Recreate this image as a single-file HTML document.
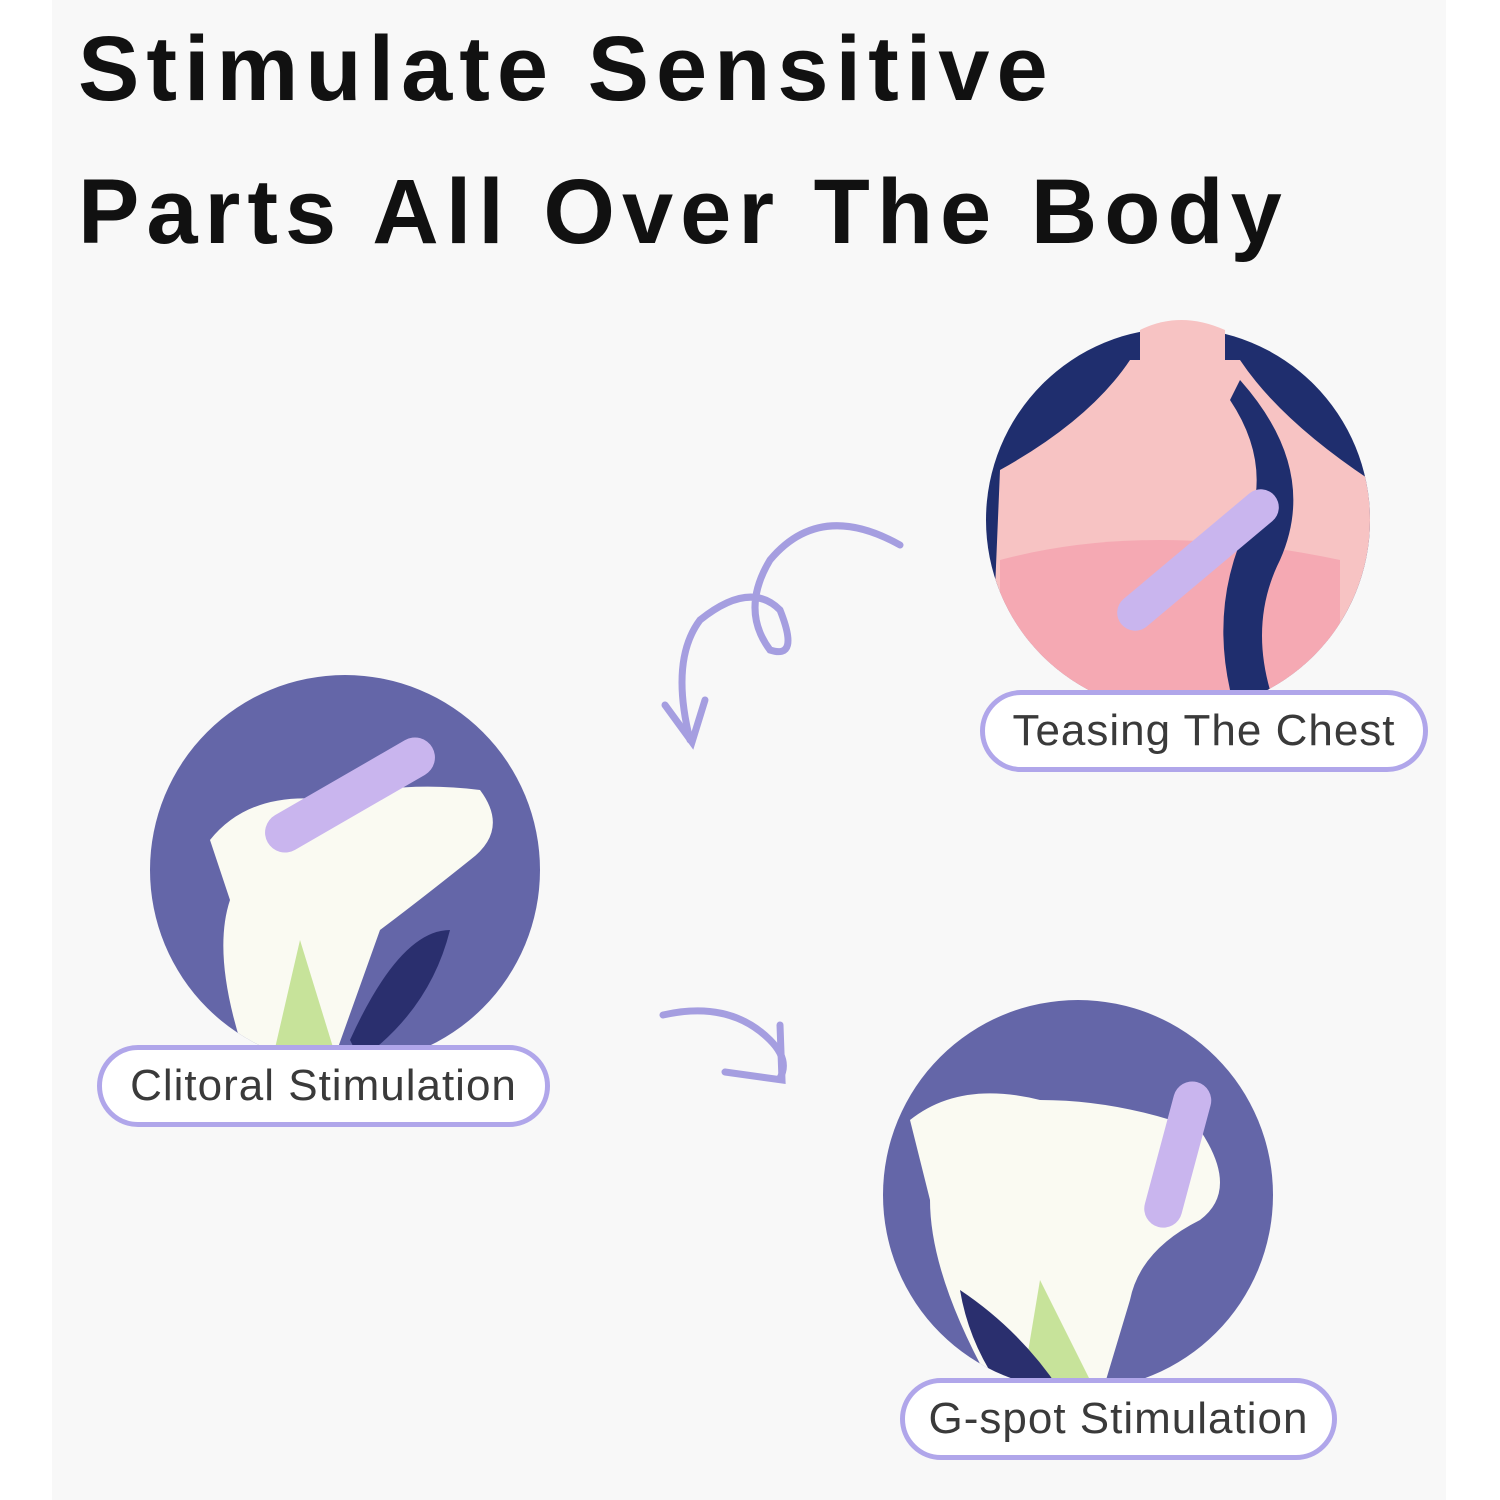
<!DOCTYPE html>
<html><head><meta charset="utf-8"><style>
html,body{margin:0;padding:0;background:#fff;}
body{width:1500px;height:1500px;position:relative;overflow:hidden;font-family:"Liberation Sans",sans-serif;}
.panel{position:absolute;left:52px;top:0;width:1394px;height:1500px;background:#f8f8f8;}
h1{position:absolute;left:78px;top:-2px;margin:0;font-size:92px;line-height:143px;font-weight:bold;color:#111;letter-spacing:7px;white-space:nowrap;}
.pill{position:absolute;box-sizing:border-box;border:5px solid #b0a6ea;border-radius:45px;background:#fff;color:#3a3a3a;font-size:44px;text-align:center;letter-spacing:1px;}
svg{position:absolute;left:0;top:0;}
</style></head><body>
<div class="panel"></div>
<h1>Stimulate Sensitive<br>Parts All Over The Body</h1>
<svg width="1500" height="1500" viewBox="0 0 1500 1500">
<defs>
<clipPath id="c1"><circle cx="1178" cy="520" r="192"/></clipPath>
<clipPath id="c2"><circle cx="345" cy="870" r="195"/></clipPath>
<clipPath id="c3"><circle cx="1078" cy="1195" r="195"/></clipPath>
</defs>
<g clip-path="url(#c1)">
<rect x="980" y="320" width="400" height="400" fill="#1f2e6e"/>
<path d="M1000 470 Q1090 420 1130 360 L1240 360 Q1280 420 1370 480 L1370 710 L990 710 Z" fill="#f7c3c3"/>
<path d="M1000 560 Q1150 520 1340 560 L1340 710 L1000 710 Z" fill="#f5a9b3"/>
<path d="M1240 380 Q1320 470 1280 560 Q1250 620 1270 690 L1230 690 Q1210 600 1250 520 Q1270 460 1230 400 Z" fill="#1f2e6e"/>
<rect x="1180" y="460" width="36" height="200" rx="18" fill="#c9b5ee" transform="rotate(50 1198 560)"/>
</g>
<path d="M1140 330 Q1180 310 1225 330 L1225 360 L1140 360 Z" fill="#f7c3c3"/>
<g clip-path="url(#c2)">
<rect x="140" y="670" width="420" height="420" fill="#6466a8"/>
<path d="M210 840 Q250 790 330 800 Q400 780 480 790 Q510 830 470 860 Q420 900 380 930 L330 1070 L250 1070 Q210 960 230 900 Z" fill="#fafaf2"/>
<path d="M300 940 L340 1070 L270 1070 Z" fill="#c7e39a"/>
<path d="M350 1040 Q400 930 450 930 Q430 1010 360 1060 Z" fill="#2a2f6e"/>
<rect x="330" y="700" width="40" height="190" rx="20" fill="#c9b5ee" transform="rotate(60 350 795)"/>
</g>
<g clip-path="url(#c3)">
<rect x="870" y="990" width="420" height="420" fill="#6466a8"/>
<path d="M910 1120 Q960 1080 1040 1100 Q1120 1100 1200 1130 Q1240 1190 1200 1220 Q1140 1250 1130 1300 L1100 1400 L1000 1400 Q930 1280 930 1200 Z" fill="#fafaf2"/>
<path d="M1040 1280 L1100 1400 L1020 1400 Z" fill="#c7e39a"/>
<path d="M960 1290 Q1020 1330 1060 1390 L1010 1400 Q970 1350 960 1290 Z" fill="#2a2f6e"/>
<rect x="1160" y="1080" width="38" height="150" rx="19" fill="#c9b5ee" transform="rotate(15 1180 1150)"/>
</g>
<g fill="none" stroke="#a59ee0" stroke-width="7" stroke-linecap="round">
<path d="M900 545 Q820 500 770 560 Q740 610 770 650 Q800 660 780 610 Q750 580 700 620 Q670 660 690 740"/>
<path d="M665 705 L692 742 L705 700"/>
<path d="M663 1015 Q730 1000 770 1040 Q790 1060 780 1078"/>
<path d="M725 1072 L782 1080 L780 1025"/>
</g>
</svg>
<div class="pill" style="left:980px;top:690px;width:448px;height:82px;line-height:72px;">Teasing The Chest</div>
<div class="pill" style="left:97px;top:1045px;width:453px;height:82px;line-height:72px;">Clitoral Stimulation</div>
<div class="pill" style="left:900px;top:1378px;width:437px;height:82px;line-height:72px;">G-spot Stimulation</div>
</body></html>
